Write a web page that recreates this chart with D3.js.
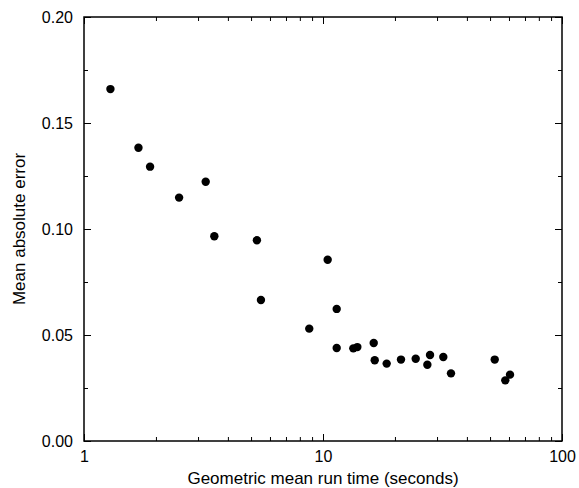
<!DOCTYPE html>
<html>
<head>
<meta charset="utf-8">
<script src="https://cdn.jsdelivr.net/npm/d3@7"></script>
<style>
  body { margin: 0; background: #fff; }
  text { font-family: "Liberation Sans", Arial, sans-serif; fill: #000; }
</style>
</head>
<body>
<div id="chart"></div>
<script>
// geometric mean run time (s) and mean absolute error
var runTime = [1.29, 1.69, 1.89, 2.50, 3.23, 3.51, 5.29, 5.50, 8.76, 10.46,
               11.41, 11.41, 13.39, 13.92, 16.3, 16.46, 18.47, 21.2, 24.43,
               27.33, 28.04, 31.87, 34.32, 52.3, 57.9, 60.6];
var meanError = [0.166, 0.1383, 0.1294, 0.1148, 0.1223, 0.0966, 0.0947, 0.0665,
                 0.0530, 0.0855, 0.0623, 0.0439, 0.0437, 0.0443, 0.0462, 0.0381,
                 0.0365, 0.0384, 0.0388, 0.0360, 0.0406, 0.0396, 0.0319, 0.0384,
                 0.0286, 0.0313];

var xMajor = [1, 10, 100];
var xMinor = [2, 3, 4, 5, 6, 7, 8, 9, 20, 30, 40, 50, 60, 70, 80, 90];
var yMajor = [0, 0.05, 0.10, 0.15, 0.20];
var yMinor = [0.025, 0.075, 0.125, 0.175];

var W = 579, H = 488;
var margin = {top: 17, right: 17, bottom: 47, left: 84},
    width = W - margin.left - margin.right,
    height = H - margin.top - margin.bottom;

var svg = d3.select("#chart")
    .append("svg")
    .attr("width", W)
    .attr("height", H)
    .append("g")
    .attr("transform", "translate(" + margin.left + "," + margin.top + ")");

var x = d3.scaleLog()
    .domain([1, 100])
    .range([0, width]);

var y = d3.scaleLinear()
    .domain([0, 0.2])
    .range([height, 0]);

// inward ticks on all four sides
function ticks(axis, vals, len, labels) {
    return axis.tickValues(vals).tickSizeInner(-len).tickSizeOuter(0)
        .tickFormat(labels ? labels : function() { return ""; });
}

var xg = svg.append("g").attr("transform", "translate(0," + height + ")");
xg.call(ticks(d3.axisBottom(x), xMajor, 7, d3.format("d")));
xg.append("g").call(ticks(d3.axisBottom(x), xMinor, 4));
xg.selectAll("text").attr("font-size", "16px").attr("dy", "1.15em");

var xt = svg.append("g");
xt.call(ticks(d3.axisTop(x), xMajor, 7));
xt.append("g").call(ticks(d3.axisTop(x), xMinor, 4));

var yg = svg.append("g");
yg.call(ticks(d3.axisLeft(y), yMajor, 7, d3.format(".2f")));
yg.append("g").call(ticks(d3.axisLeft(y), yMinor, 4));
yg.selectAll("text").attr("font-size", "16px").attr("x", -11);

var yr = svg.append("g").attr("transform", "translate(" + width + ",0)");
yr.call(ticks(d3.axisRight(y), yMajor, 7));
yr.append("g").call(ticks(d3.axisRight(y), yMinor, 4));

svg.selectAll(".domain").remove();
svg.selectAll(".tick line").attr("stroke", "#000").attr("stroke-width", 1);

// frame
svg.append("rect")
    .attr("width", width)
    .attr("height", height)
    .attr("fill", "none")
    .attr("stroke", "#000")
    .attr("stroke-width", 1.5);

// dots
svg.selectAll(".dot")
    .data(runTime)
    .enter()
    .append("circle")
    .attr("class", "dot")
    .attr("cx", function(d) { return x(d); })
    .attr("cy", function(d, i) { return y(meanError[i]); })
    .attr("r", 4.2)
    .attr("fill", "#000");

// axis titles
svg.append("text")
    .attr("x", width / 2)
    .attr("y", height + 43)
    .attr("text-anchor", "middle")
    .attr("font-size", "17px")
    .text("Geometric mean run time (seconds)");

svg.append("text")
    .attr("transform", "rotate(-90)")
    .attr("x", -height / 2)
    .attr("y", -margin.left + 25)
    .attr("text-anchor", "middle")
    .attr("font-size", "17px")
    .text("Mean absolute error");
</script>
</body>
</html>
